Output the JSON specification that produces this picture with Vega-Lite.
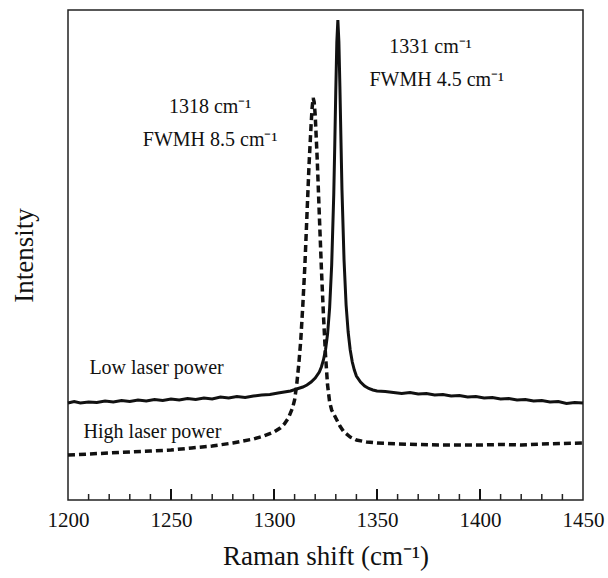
{
  "$schema": "https://vega.github.io/schema/vega-lite/v6.json",
  "width": 515,
  "height": 490,
  "autosize": {"type": "none"},
  "padding": {"left": 68, "top": 10, "right": 25, "bottom": 78},
  "background": "white",
  "config": {
    "view": {"stroke": "#222", "strokeWidth": 1.5},
    "font": "Liberation Serif",
    "axis": {"labelFont": "Liberation Serif", "titleFont": "Liberation Serif", "labelColor": "#111", "titleColor": "#111", "titleFontWeight": "normal"}
  },
  "datasets": {
    "low": [
      {"shift": 1200, "intensity": 97}, {"shift": 1203, "intensity": 98.5}, {"shift": 1206, "intensity": 97}, {"shift": 1210, "intensity": 98},
      {"shift": 1214, "intensity": 97.5}, {"shift": 1218, "intensity": 99}, {"shift": 1222, "intensity": 98}, {"shift": 1226, "intensity": 99.5},
      {"shift": 1230, "intensity": 98.5}, {"shift": 1234, "intensity": 100}, {"shift": 1238, "intensity": 99}, {"shift": 1242, "intensity": 100.5},
      {"shift": 1246, "intensity": 99.5}, {"shift": 1250, "intensity": 101}, {"shift": 1254, "intensity": 100}, {"shift": 1258, "intensity": 101.5},
      {"shift": 1262, "intensity": 100.5}, {"shift": 1266, "intensity": 102}, {"shift": 1270, "intensity": 101}, {"shift": 1274, "intensity": 103},
      {"shift": 1278, "intensity": 102}, {"shift": 1282, "intensity": 103.5}, {"shift": 1286, "intensity": 102.5}, {"shift": 1290, "intensity": 104},
      {"shift": 1294, "intensity": 105}, {"shift": 1298, "intensity": 105.5}, {"shift": 1302, "intensity": 107}, {"shift": 1305, "intensity": 108},
      {"shift": 1308, "intensity": 109}, {"shift": 1311, "intensity": 111}, {"shift": 1314, "intensity": 113}, {"shift": 1316, "intensity": 115},
      {"shift": 1318, "intensity": 118}, {"shift": 1320, "intensity": 122}, {"shift": 1322, "intensity": 128}, {"shift": 1323, "intensity": 133},
      {"shift": 1324, "intensity": 140}, {"shift": 1325, "intensity": 150}, {"shift": 1326, "intensity": 166}, {"shift": 1327, "intensity": 192},
      {"shift": 1328, "intensity": 235}, {"shift": 1329, "intensity": 305}, {"shift": 1329.5, "intensity": 355}, {"shift": 1330, "intensity": 410},
      {"shift": 1330.5, "intensity": 458}, {"shift": 1331, "intensity": 480}, {"shift": 1331.5, "intensity": 458}, {"shift": 1332, "intensity": 412},
      {"shift": 1332.5, "intensity": 360}, {"shift": 1333, "intensity": 310}, {"shift": 1334, "intensity": 240}, {"shift": 1335, "intensity": 195},
      {"shift": 1336, "intensity": 168}, {"shift": 1337, "intensity": 150}, {"shift": 1338, "intensity": 138}, {"shift": 1339, "intensity": 130},
      {"shift": 1340, "intensity": 124}, {"shift": 1342, "intensity": 118}, {"shift": 1344, "intensity": 114}, {"shift": 1346, "intensity": 111.5},
      {"shift": 1348, "intensity": 110}, {"shift": 1350, "intensity": 109}, {"shift": 1354, "intensity": 108.5}, {"shift": 1358, "intensity": 107.5},
      {"shift": 1362, "intensity": 106.5}, {"shift": 1366, "intensity": 107.5}, {"shift": 1370, "intensity": 106}, {"shift": 1374, "intensity": 106.5},
      {"shift": 1378, "intensity": 105}, {"shift": 1382, "intensity": 105.5}, {"shift": 1386, "intensity": 104}, {"shift": 1390, "intensity": 104.5},
      {"shift": 1394, "intensity": 103}, {"shift": 1398, "intensity": 103.5}, {"shift": 1402, "intensity": 102}, {"shift": 1406, "intensity": 102.5},
      {"shift": 1410, "intensity": 101}, {"shift": 1414, "intensity": 101.5}, {"shift": 1418, "intensity": 100}, {"shift": 1422, "intensity": 100.5},
      {"shift": 1426, "intensity": 99}, {"shift": 1430, "intensity": 99.5}, {"shift": 1434, "intensity": 98}, {"shift": 1438, "intensity": 98.5},
      {"shift": 1442, "intensity": 96.5}, {"shift": 1446, "intensity": 97.5}, {"shift": 1450, "intensity": 97}
    ],
    "high": [
      {"shift": 1200, "intensity": 45}, {"shift": 1210, "intensity": 46}, {"shift": 1220, "intensity": 47}, {"shift": 1230, "intensity": 48},
      {"shift": 1240, "intensity": 49}, {"shift": 1250, "intensity": 50}, {"shift": 1260, "intensity": 52}, {"shift": 1270, "intensity": 54},
      {"shift": 1280, "intensity": 57}, {"shift": 1290, "intensity": 61}, {"shift": 1295, "intensity": 64}, {"shift": 1300, "intensity": 68},
      {"shift": 1303, "intensity": 72}, {"shift": 1305, "intensity": 76}, {"shift": 1307, "intensity": 82}, {"shift": 1309, "intensity": 92},
      {"shift": 1310, "intensity": 100}, {"shift": 1311, "intensity": 115}, {"shift": 1312, "intensity": 135}, {"shift": 1313, "intensity": 160},
      {"shift": 1314, "intensity": 195}, {"shift": 1315, "intensity": 235}, {"shift": 1316, "intensity": 285}, {"shift": 1317, "intensity": 335},
      {"shift": 1318, "intensity": 375}, {"shift": 1318.5, "intensity": 392}, {"shift": 1319, "intensity": 402}, {"shift": 1319.5, "intensity": 398},
      {"shift": 1320, "intensity": 385}, {"shift": 1321, "intensity": 340}, {"shift": 1322, "intensity": 285}, {"shift": 1323, "intensity": 232},
      {"shift": 1324, "intensity": 185}, {"shift": 1325, "intensity": 145}, {"shift": 1326, "intensity": 115}, {"shift": 1327, "intensity": 98},
      {"shift": 1328, "intensity": 90}, {"shift": 1329, "intensity": 86}, {"shift": 1330, "intensity": 82}, {"shift": 1332, "intensity": 74},
      {"shift": 1334, "intensity": 68}, {"shift": 1337, "intensity": 63}, {"shift": 1340, "intensity": 60}, {"shift": 1345, "intensity": 58},
      {"shift": 1350, "intensity": 57}, {"shift": 1360, "intensity": 56}, {"shift": 1370, "intensity": 55.5}, {"shift": 1380, "intensity": 55},
      {"shift": 1390, "intensity": 55}, {"shift": 1400, "intensity": 55}, {"shift": 1410, "intensity": 55.5}, {"shift": 1420, "intensity": 55},
      {"shift": 1430, "intensity": 56}, {"shift": 1440, "intensity": 56.5}, {"shift": 1450, "intensity": 57}
    ],
    "notes": [
      {"shift": 1376, "intensity": 453, "label": "1331 cm⁻¹"},
      {"shift": 1379, "intensity": 420, "label": "FWMH 4.5 cm⁻¹"},
      {"shift": 1269, "intensity": 393, "label": "1318 cm⁻¹"},
      {"shift": 1269, "intensity": 360, "label": "FWMH 8.5 cm⁻¹"},
      {"shift": 1243, "intensity": 132, "label": "Low laser power"},
      {"shift": 1241, "intensity": 68, "label": "High laser power"}
    ],
    "majorTicks": [{"shift": 1250}, {"shift": 1300}, {"shift": 1350}, {"shift": 1400}],
    "minorTicks": [
      {"shift": 1210}, {"shift": 1220}, {"shift": 1230}, {"shift": 1240}, {"shift": 1260}, {"shift": 1270}, {"shift": 1280}, {"shift": 1290},
      {"shift": 1310}, {"shift": 1320}, {"shift": 1330}, {"shift": 1340}, {"shift": 1360}, {"shift": 1370}, {"shift": 1380}, {"shift": 1390},
      {"shift": 1410}, {"shift": 1420}, {"shift": 1430}, {"shift": 1440}
    ]
  },
  "layer": [
    {
      "data": {"name": "low"},
      "mark": {"type": "line", "color": "#111", "strokeWidth": 3},
      "encoding": {
        "x": {"field": "shift", "type": "quantitative", "scale": {"domain": [1200, 1450], "nice": false, "zero": false},
              "axis": {"orient": "bottom", "values": [1200, 1250, 1300, 1350, 1400, 1450], "format": "d", "ticks": false, "domain": false, "grid": false,
                       "labelFontSize": 21, "labelPadding": 9, "labelFlush": false, "title": "Raman shift (cm⁻¹)", "titleFontSize": 27, "titlePadding": 13}},
        "y": {"field": "intensity", "type": "quantitative", "scale": {"domain": [0, 490], "nice": false},
              "axis": {"title": "Intensity", "titleFontSize": 27, "ticks": false, "labels": false, "domain": false, "grid": false, "titlePadding": 30}}
      }
    },
    {
      "data": {"name": "high"},
      "mark": {"type": "line", "color": "#111", "strokeWidth": 3.5, "strokeDash": [7, 4]},
      "encoding": {
        "x": {"field": "shift", "type": "quantitative"},
        "y": {"field": "intensity", "type": "quantitative"}
      }
    },
    {
      "data": {"name": "majorTicks"},
      "mark": {"type": "rule", "color": "#111", "strokeWidth": 2},
      "encoding": {
        "x": {"field": "shift", "type": "quantitative"},
        "y": {"datum": 0},
        "y2": {"datum": 11}
      }
    },
    {
      "data": {"name": "minorTicks"},
      "mark": {"type": "rule", "color": "#222", "strokeWidth": 1.5},
      "encoding": {
        "x": {"field": "shift", "type": "quantitative"},
        "y": {"datum": 0},
        "y2": {"datum": 6}
      }
    },
    {
      "data": {"name": "notes"},
      "mark": {"type": "text", "font": "Liberation Serif", "fontSize": 20, "color": "#111"},
      "encoding": {
        "x": {"field": "shift", "type": "quantitative"},
        "y": {"field": "intensity", "type": "quantitative"},
        "text": {"field": "label"}
      }
    }
  ]
}
